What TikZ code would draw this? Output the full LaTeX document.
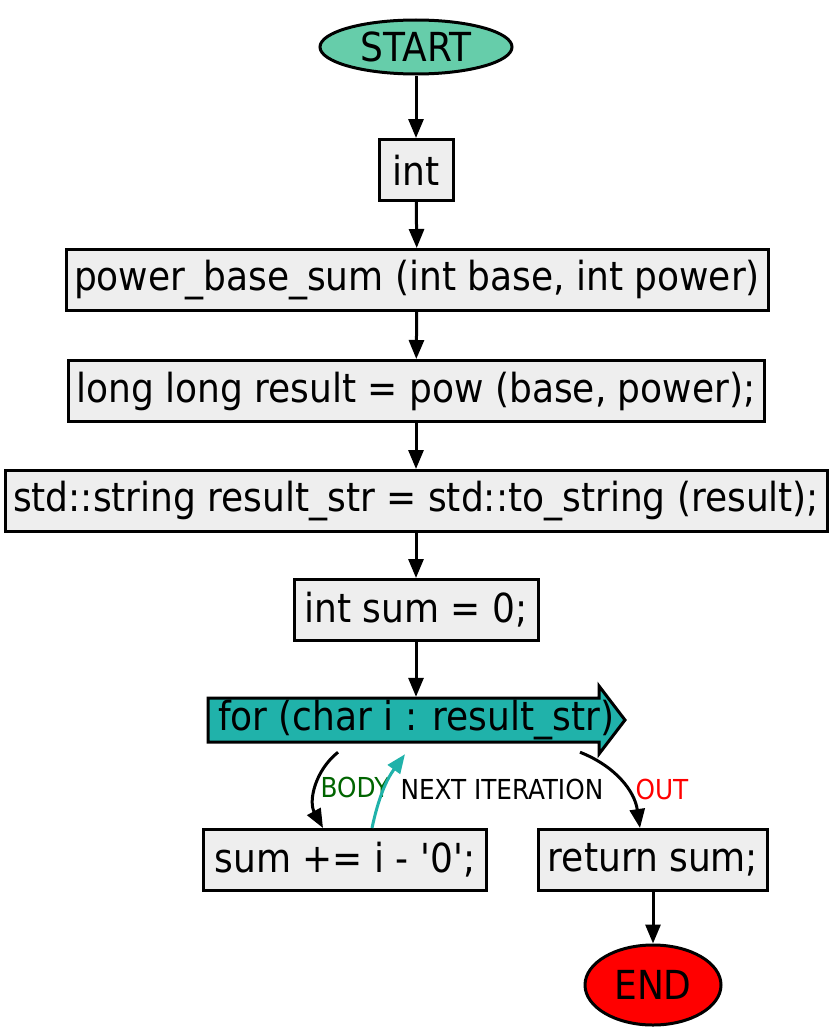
\documentclass[tikz,border=0pt]{standalone}
\usepackage{fontspec}
\setmainfont{DejaVu Sans Condensed}
\usetikzlibrary{arrows.meta,shapes.geometric}
\definecolor{startgreen}{HTML}{66CDAA}
\definecolor{loopteal}{HTML}{20B2AA}
\definecolor{boxgray}{HTML}{EEEEEE}
\definecolor{bodygreen}{HTML}{006400}

\begin{document}
\begin{tikzpicture}[x=1pt,y=1pt,
        box/.style={draw,line width=3pt,fill=boxgray,minimum height=61pt,inner sep=0pt,font=\fontsize{40}{44}\selectfont},
        term/.style={ellipse,draw,line width=3pt,inner sep=0pt,font=\fontsize{40}{44}\selectfont},
        edge/.style={line width=3pt,-{Triangle[length=19pt,width=15pt]}},
        lbl/.style={font=\fontsize{27.5}{30}\selectfont,inner sep=3pt}]
                \useasboundingbox (0,0) rectangle (833,-1033);
                \node[term,fill=startgreen,minimum width=192pt,minimum height=54pt] (start) at (416,-47) {START};
                \node[box,minimum width=74pt] (ret) at (416,-170) {int};
                \node[box,minimum width=702pt] (func) at (417,-280) {power\_base\_sum (int base, int power)};
                \node[box,minimum width=696pt] (res) at (416,-391) {long long result = pow (base, power);};
                \node[box,minimum width=822pt] (str) at (416,-501) {std::string result\_str = std::to\_string (result);};
                \node[box,minimum width=244pt] (init) at (416,-610) {int sum = 0;};
                \draw[line width=3pt,fill=loopteal] (208,-698) -- (599,-698) -- (599,-686) -- (625,-720)
                        -- (599,-754) -- (599,-742) -- (208,-742) -- cycle;
                \node[minimum width=392pt,minimum height=46pt,inner sep=0pt,font=\fontsize{40}{44}\selectfont] (loop) at (416,-720) {for (char i : result\_str)};
                \node[box,minimum width=283pt] (sum) at (345,-860) {sum += i - \textquotesingle 0\textquotesingle;};
                \node[box,minimum width=229pt] (retsum) at (653,-860) {return sum;};
                \node[term,fill=red,minimum width=136pt,minimum height=80pt] (end) at (653,-985) {END};

                \draw[edge] (start) -- (ret);
                \draw[edge] (ret) -- (func);
                \draw[edge] (func) -- (res);
                \draw[edge] (res) -- (str);
                \draw[edge] (str) -- (init);
                \draw[edge] (init) -- (loop);
                \draw[edge] ([xshift=-78pt,yshift=-9pt]loop.south) to[bend right=40]
                        node[lbl,right,text=bodygreen] {BODY} ([xshift=-22pt]sum.north);
                \draw[edge,loopteal] ([xshift=27pt]sum.north) to[bend left=12]
                        node[lbl,right,text=black,xshift=12pt] {NEXT ITERATION} ([xshift=-11pt,yshift=-11pt]loop.south);
                \draw[edge] ([xshift=164pt,yshift=-9pt]loop.south) to[bend left=30]
                        node[lbl,right,text=red,xshift=10pt,yshift=-8pt] {OUT} ([xshift=-13pt]retsum.north);
                \draw[edge] (retsum) -- (end);
            \end{tikzpicture}
\end{document}
